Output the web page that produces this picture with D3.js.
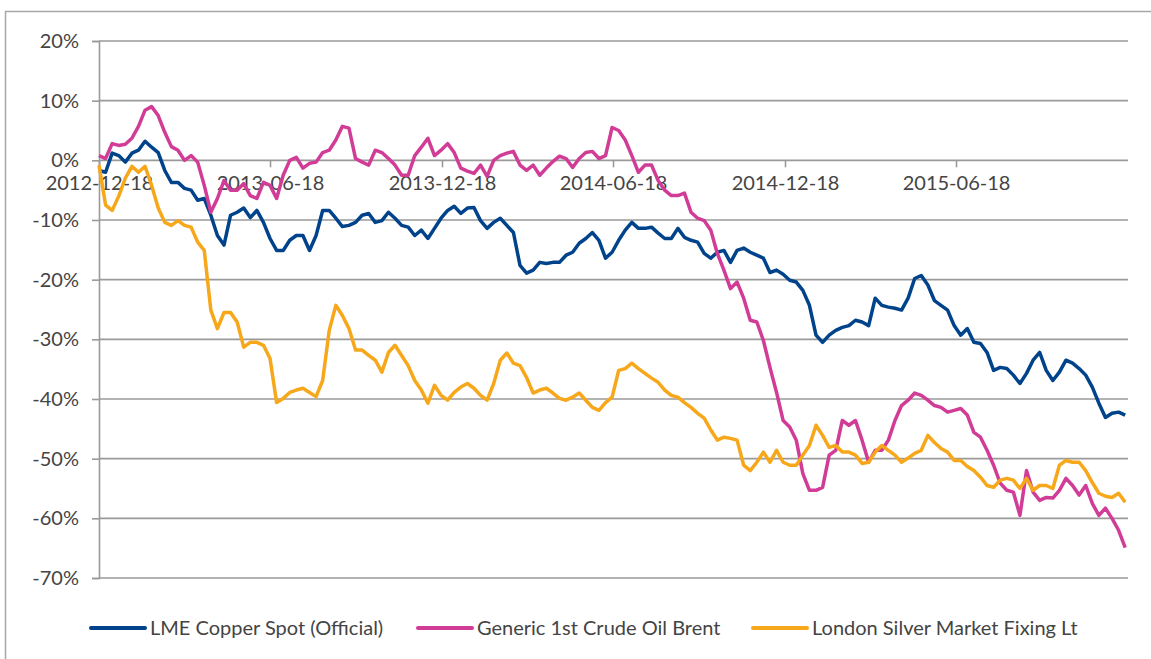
<!DOCTYPE html>
<html>
<head>
<meta charset="utf-8">
<script src="https://cdn.jsdelivr.net/npm/d3@7"></script>
<style>
body { margin: 0; background: #fff; }
svg text { font-family: Lato, "Open Sans", sans-serif; fill: #444; }
</style>
</head>
<body>
<div id="chart"></div>
<script>
// weekly closes, % change since 2012-12-18
var startDate = "2012-12-18",
    endDate = "2015-12-18";

var tickDates = ["2012-12-18", "2013-06-18", "2013-12-18", "2014-06-18", "2014-12-18", "2015-06-18"];
var yTicks = [20, 10, 0, -10, -20, -30, -40, -50, -60, -70];

var seriesNames = ["LME Copper Spot (Official)", "Generic 1st Crude Oil Brent", "London Silver Market Fixing Lt"];
var seriesColors = ["#00438b", "#d13c97", "#f7a71a"];

var copper = [-1.7,-2.0,1.2,0.8,-0.3,1.2,1.7,3.2,2.2,1.3,
  -1.7,-3.7,-3.7,-4.7,-5.0,-6.7,-6.4,-9.2,-12.6,-14.2,
  -9.2,-8.7,-8.0,-9.6,-8.4,-10.4,-13.1,-15.1,-15.1,-13.4,
  -12.6,-12.6,-15.1,-12.6,-8.4,-8.4,-9.7,-11.1,-10.9,-10.4,
  -9.2,-8.9,-10.4,-10.1,-8.7,-9.7,-10.9,-11.2,-12.6,-11.7,
  -13.1,-11.4,-9.7,-8.4,-7.7,-8.9,-8.0,-7.9,-10.1,-11.4,
  -10.4,-9.7,-10.9,-12.1,-17.6,-18.9,-18.4,-17.1,-17.3,-17.1,
  -17.1,-15.9,-15.4,-13.9,-13.1,-12.1,-13.4,-16.4,-15.4,-13.4,
  -11.7,-10.4,-11.4,-11.4,-11.2,-12.2,-13.1,-13.1,-11.4,-12.9,
  -13.4,-13.7,-15.6,-16.4,-15.4,-15.1,-17.1,-15.1,-14.7,-15.4,
  -15.9,-16.4,-18.8,-18.4,-19.1,-20.1,-20.4,-21.8,-24.3,-29.3,
  -30.5,-29.3,-28.5,-28.0,-27.7,-26.8,-27.1,-27.7,-23.1,-24.3,
  -24.6,-24.8,-25.1,-23.1,-19.8,-19.3,-20.9,-23.5,-24.3,-25.1,
  -27.7,-29.3,-28.2,-30.5,-30.7,-32.2,-35.2,-34.7,-34.9,-36.0,
  -37.4,-35.7,-33.5,-32.2,-35.2,-36.9,-35.5,-33.5,-34.0,-34.9,
  -36.0,-38.0,-40.7,-43.1,-42.4,-42.2,-42.7];

var brent = [0.8,0.3,2.8,2.5,2.7,3.7,5.7,8.4,9.0,7.5,
  4.7,2.3,1.7,0.0,0.8,-0.3,-4.2,-8.7,-6.4,-3.4,
  -5.0,-5.0,-3.9,-5.9,-6.4,-3.7,-4.2,-6.4,-2.5,0.0,
  0.5,-1.3,-0.5,-0.3,1.3,1.7,3.4,5.7,5.4,0.3,
  -0.3,-0.8,1.7,1.3,0.3,-0.8,-2.5,-2.5,0.8,2.2,
  3.7,0.8,1.7,2.8,1.3,-1.3,-1.8,-2.2,-0.8,-2.7,
  0.0,0.8,1.2,1.5,-0.8,-1.7,-0.8,-2.5,-1.3,-0.2,
  0.7,0.3,-1.2,0.3,1.3,1.5,0.3,0.8,5.5,5.0,
  3.4,0.8,-2.0,-0.8,-0.8,-3.4,-5.0,-5.9,-5.9,-5.5,
  -8.7,-9.7,-10.1,-11.7,-15.6,-18.4,-21.5,-20.4,-23.1,-26.8,
  -27.1,-30.2,-34.7,-38.9,-43.6,-44.7,-46.9,-52.5,-55.3,-55.3,
  -54.8,-49.4,-48.6,-43.6,-44.4,-43.6,-46.9,-50.6,-48.6,-48.6,
  -46.9,-43.6,-41.1,-40.2,-39.0,-39.4,-40.2,-41.1,-41.4,-42.2,
  -41.9,-41.6,-42.7,-45.6,-46.4,-48.6,-51.1,-54.1,-55.3,-55.6,
  -59.5,-52.0,-55.6,-57.0,-56.5,-56.6,-55.3,-53.3,-54.5,-56.1,
  -54.5,-57.5,-59.5,-58.3,-60.0,-62.0,-64.9];

var silver = [-0.8,-7.5,-8.4,-6.0,-3.0,-1.0,-2.0,-1.0,-4.2,-8.0,
  -10.4,-10.9,-10.1,-10.9,-11.2,-13.7,-15.1,-25.1,-28.2,-25.5,
  -25.5,-27.1,-31.3,-30.5,-30.5,-31.0,-33.2,-40.6,-39.9,-38.9,
  -38.5,-38.2,-38.9,-39.6,-36.9,-28.5,-24.3,-26.0,-28.2,-31.8,
  -31.8,-32.7,-33.5,-35.5,-32.2,-31.0,-32.7,-34.4,-36.9,-38.5,
  -40.7,-37.7,-39.4,-40.2,-38.9,-38.0,-37.4,-38.2,-39.4,-40.2,
  -37.4,-33.5,-32.3,-34.0,-34.4,-36.4,-39.0,-38.5,-38.2,-39.0,
  -39.9,-40.2,-39.7,-39.0,-40.2,-41.4,-41.9,-40.6,-39.7,-35.2,
  -34.9,-34.0,-34.9,-35.7,-36.5,-37.2,-38.5,-39.4,-39.7,-40.6,
  -41.4,-42.4,-43.2,-45.2,-46.9,-46.4,-46.6,-46.9,-51.1,-52.0,
  -50.6,-48.9,-50.6,-48.6,-50.6,-51.1,-51.1,-49.4,-47.8,-44.4,
  -46.1,-48.1,-47.8,-48.9,-48.9,-49.4,-50.8,-50.6,-48.9,-47.8,
  -48.6,-49.4,-50.6,-49.9,-49.1,-48.6,-46.1,-47.3,-48.3,-48.9,
  -50.3,-50.3,-51.3,-52.0,-53.1,-54.5,-54.8,-53.6,-53.3,-53.6,
  -55.0,-53.3,-55.3,-54.5,-54.5,-55.0,-51.1,-50.3,-50.6,-50.6,
  -52.0,-54.0,-55.8,-56.3,-56.5,-55.8,-57.3];

var width = 1151, height = 659;
var plotLeft = 99, plotRight = 1128, plotTop = 41, plotBottom = 578;
var gridColor = "#9a9a9a";

var parse = d3.timeParse("%Y-%m-%d");
var start = parse(startDate);

var x = d3.scaleTime()
    .domain([start, parse(endDate)])
    .range([plotLeft, plotRight]);
var y = d3.scaleLinear()
    .domain([-70, 20])
    .range([plotBottom, plotTop]);

var svg = d3.select("#chart").append("svg")
    .attr("width", width)
    .attr("height", height);

// frame
svg.append("rect")
    .attr("x", 5.5).attr("y", 11.5)
    .attr("width", 1200).attr("height", 700)
    .attr("fill", "none")
    .attr("stroke", "#a8a8a8")
    .attr("stroke-width", 1.5);

//gridlines
svg.append("g")
    .selectAll("line")
    .data(yTicks)
    .enter().append("line")
    .attr("x1", plotLeft).attr("x2", plotRight)
    .attr("y1", function (d) { return y(d); })
    .attr("y2", function (d) { return y(d); })
    .attr("stroke", gridColor)
    .attr("stroke-width", 1.6);

// y axis
var yAxis = svg.append("g")
    .attr("transform", "translate(" + plotLeft + ",0)")
    .call(d3.axisLeft(y).tickValues(yTicks).tickSize(7).tickPadding(13)
      .tickFormat(function (d) { return d + "%"; }));
yAxis.select(".domain").attr("stroke", gridColor).attr("stroke-width", 1.6);
yAxis.selectAll(".tick line").attr("stroke", gridColor).attr("stroke-width", 1.6);
yAxis.selectAll("text").style("font-size", "20px").attr("fill", "#444");

// x axis sits on the 0% line
var xAxis = svg.append("g")
    .attr("transform", "translate(0," + y(0) + ")")
    .call(d3.axisBottom(x).tickValues(tickDates.map(parse)).tickSize(7).tickPadding(8)
      .tickFormat(d3.timeFormat("%Y-%m-%d")));
xAxis.select(".domain").remove();
xAxis.selectAll(".tick line").attr("stroke", gridColor).attr("stroke-width", 1.6);
xAxis.selectAll("text").style("font-size", "20px").attr("fill", "#444");

//lines
var all = [copper, brent, silver];
var line = d3.line()
    .x(function (d, i) { return x(d3.timeDay.offset(start, 7 * i)); })
    .y(function (d) { return y(d); });

svg.append("g")
    .selectAll("path")
    .data(all)
    .enter().append("path")
    .attr("d", line)
    .attr("fill", "none")
    .attr("stroke", function (d, i) { return seriesColors[i]; })
    .attr("stroke-width", 3.5)
    .attr("stroke-linejoin", "round");

// legend
var legendX = [91, 418, 753];
var legend = svg.append("g")
    .selectAll("g")
    .data(seriesNames)
    .enter().append("g")
    .attr("transform", function (d, i) { return "translate(" + legendX[i] + ",628)"; });
legend.append("line")
    .attr("x1", 0).attr("x2", 54)
    .attr("stroke", function (d, i) { return seriesColors[i]; })
    .attr("stroke-width", 4)
    .attr("stroke-linecap", "round");
legend.append("text")
    .attr("x", 59).attr("dy", "0.35em")
    .style("font-size", "20px")
    .text(function (d) { return d; });
</script>
</body>
</html>
